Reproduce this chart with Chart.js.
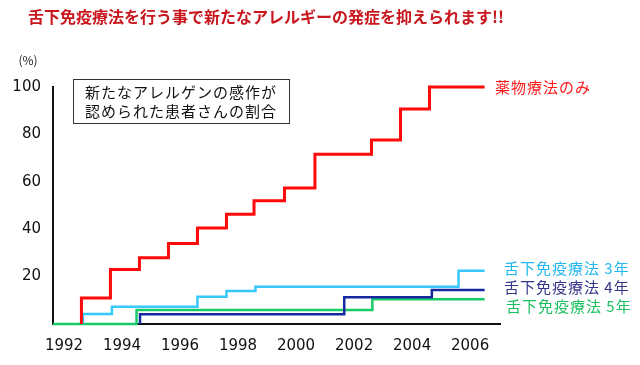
<!DOCTYPE html>
<html>
<head>
<meta charset="utf-8">
<script src="https://cdn.jsdelivr.net/npm/chart.js@4.4.1/dist/chart.umd.min.js"></script>
<style>
  html, body { margin: 0; padding: 0; background: #fff; }
  #wrap { width: 640px; height: 365px; }
</style>
</head>
<body>
<div id="wrap"><canvas id="chart" width="640" height="365"></canvas></div>
<script>
// 軸
const xTicks = [1992, 1994, 1996, 1998, 2000, 2002, 2004, 2006]
const yTicks = [20, 40, 60, 80, 100]
const xMin = 1991.62
const xMax = 2007.03

// 薬物療法のみ
const drugYears  = [1992.6, 1992.6, 1993.6, 1994.6, 1995.6, 1996.6, 1997.6, 1998.55, 1999.6, 2000.65, 2002.6, 2003.6, 2004.6, 2006.5]
const drugValues = [0, 11, 23, 28, 34, 40.5, 46.3, 52, 57.4, 71.6, 77.6, 90.7, 100, 100]

// 舌下免疫療法 3年
const slit3Years  = [1992.65, 1992.65, 1993.65, 1996.6, 1997.6, 1998.6, 2005.6, 2006.5]
const slit3Values = [0, 4.2, 7.3, 11.5, 13.9, 15.7, 22.5, 22.5]

// 舌下免疫療法 4年
const slit4Years  = [1994.62, 1994.62, 2001.66, 2004.68, 2006.5]
const slit4Values = [0, 4.1, 11.3, 14.3, 14.3]

// 舌下免疫療法 5年
const slit5Years  = [1991.62, 1994.5, 2002.63, 2006.5]
const slit5Values = [0, 5.9, 10.4, 10.4]

const FONT = '"Noto Sans CJK JP", "Noto Sans", sans-serif'
const NUM_FONT = '"DejaVu Sans", sans-serif'

const toPoints = (xs, ys) => xs.map((x, i) => ({ x: x, y: ys[i] }))

const textPlugin = {
  id: 'texts',
  afterDraw(chart) {
    const ctx = chart.ctx
    ctx.save()

    // タイトル
    ctx.font = 'bold 16px ' + FONT
    ctx.fillStyle = '#c8161d'
    ctx.textAlign = 'center'
    ctx.textBaseline = 'middle'
    ctx.fillText('舌下免疫療法を行う事で新たなアレルギーの発症を抑えられます!!', 266, 17)

    // 単位
    ctx.font = '12px ' + FONT
    ctx.fillStyle = '#222'
    ctx.fillText('(%)', 28, 60)

    // 説明ボックス
    ctx.strokeStyle = '#333'
    ctx.lineWidth = 1
    ctx.strokeRect(73.5, 79.5, 216, 44)
    ctx.font = '15px ' + FONT
    ctx.fillStyle = '#111'
    ctx.letterSpacing = '1px'
    ctx.fillText('新たなアレルゲンの感作が', 181, 92)
    ctx.fillText('認められた患者さんの割合', 181, 111)

    // 系列ラベル
    ctx.textAlign = 'left'
    ctx.font = '15px ' + FONT
    const labels = [
      ['薬物療法のみ', '#ff1a1a', 495, 87],
      ['舌下免疫療法 3年', '#22b8f0', 504, 268],
      ['舌下免疫療法 4年', '#35358a', 504, 287],
      ['舌下免疫療法 5年', '#1cc060', 506, 306]
    ]
    labels.forEach(([t, c, x, y]) => {
      ctx.fillStyle = c
      ctx.fillText(t, x, y)
    })
    ctx.restore()
  }
}

new Chart(document.getElementById('chart'), {
  type: 'line',
  data: {
    datasets: [
      { label: '薬物療法のみ', data: toPoints(drugYears, drugValues), borderColor: '#ff0a0a', borderWidth: 3 },
      { label: '舌下免疫療法 3年', data: toPoints(slit3Years, slit3Values), borderColor: '#36c8fa', borderWidth: 2.5 },
      { label: '舌下免疫療法 4年', data: toPoints(slit4Years, slit4Values), borderColor: '#1428a0', borderWidth: 2.5 },
      { label: '舌下免疫療法 5年', data: toPoints(slit5Years, slit5Values), borderColor: '#16cc66', borderWidth: 2.5 }
    ].map(d => Object.assign(d, { stepped: true, pointRadius: 0, fill: false, clip: false, tension: 0 }))
  },
  options: {
    responsive: false,
    animation: false,
    devicePixelRatio: 1,
    layout: { padding: { top: 87, right: 140, left: 0, bottom: 0 } },
    plugins: {
      legend: { display: false },
      tooltip: { enabled: false }
    },
    scales: {
      x: {
        type: 'linear',
        min: xMin,
        max: xMax,
        afterBuildTicks: s => { s.ticks = xTicks.map(v => ({ value: v })) },
        afterFit: s => { s.height = 41 },
        grid: { display: false, drawTicks: false },
        border: { display: true, color: '#111', width: 2 },
        ticks: {
          padding: 13,
          color: '#111',
          font: { family: NUM_FONT, size: 15 },
          callback: v => String(v),
          maxRotation: 0,
          autoSkip: false
        }
      },
      y: {
        min: 0,
        max: 100,
        afterBuildTicks: s => { s.ticks = yTicks.map(v => ({ value: v })) },
        afterFit: s => { s.width = 53 },
        grid: { display: false, drawTicks: false },
        border: { display: true, color: '#111', width: 2 },
        ticks: {
          padding: 12,
          color: '#111',
          font: { family: NUM_FONT, size: 15 }
        }
      }
    }
  },
  plugins: [textPlugin]
})
</script>
</body>
</html>
